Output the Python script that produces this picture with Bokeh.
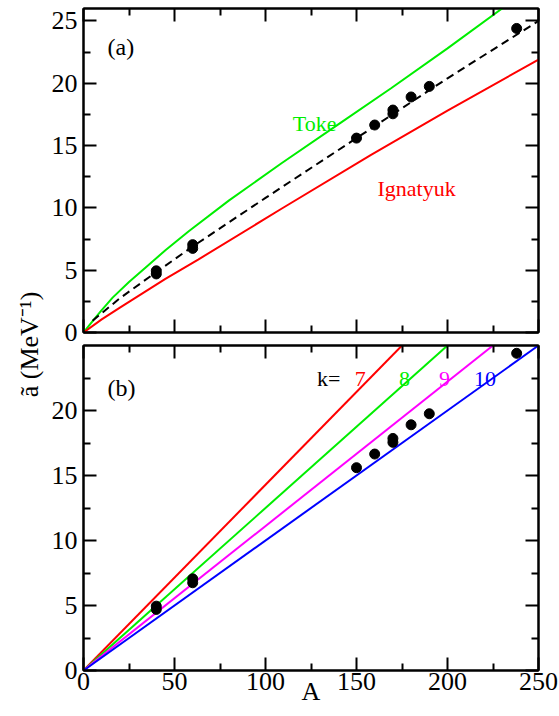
import math

from bokeh.core.properties import value
from bokeh.embed import file_html
from bokeh.layouts import column, row
from bokeh.models import FixedTicker, LinearAxis, Range1d
from bokeh.plotting import figure
from bokeh.resources import INLINE

FONT = "'Liberation Serif', 'Times New Roman', serif"

# measured level-density parameters (mass number, a-tilde in MeV^-1)
data_A = [40, 40, 60, 60, 150, 160, 170, 170, 180, 190, 238]
data_a = [4.7, 4.95, 6.75, 7.05, 15.6, 16.65, 17.55, 17.85, 18.9, 19.75, 24.4]

# panel (a): Toke, Ignatyuk and the fitted curve
toke_A = [0, 6, 10, 16, 25, 34, 45, 58, 80, 109, 140, 169, 200, 230]
toke_a = [0, 1.1, 1.8, 2.8, 4.05, 5.2, 6.6, 8.15, 10.6, 13.6, 16.7, 19.6, 22.8, 26.0]

ign_A = [0, 10, 20, 30, 45, 63, 109, 158, 200, 250]
ign_a = [0, 1.05, 2.0, 2.92, 4.3, 5.85, 9.95, 14.25, 17.8, 21.9]

fit_A = [5, 20, 40, 60, 100, 150, 200, 250]
fit_a = [0.95, 2.75, 4.85, 6.9, 10.8, 15.6, 20.4, 25.0]

# panel (b): straight lines a = A/k, from the origin to the top of the frame
k_values = ["7", "8", "9", "10"]
k_end_A = [175, 200, 225, 250]
k_end_a = [25, 25, 25, 25]
k_colors = ["#ff0000", "#00ee00", "#ff00ff", "#0000ff"]
k_label_A = [149.1, 173.4, 195.3, 214.5]

x_major = [0, 50, 100, 150, 200, 250]
x_minor = [25, 75, 125, 175, 225]
ya_major = [0, 5, 10, 15, 20, 25]
yb_major = [0, 5, 10, 15, 20]
y_minor = [2.5, 7.5, 12.5, 17.5, 22.5]

LEFT = 34  # left border of each panel, next to the 48 px title strip


def hide_labels(ax, ticks):
    ax.major_label_overrides = {t: "" for t in ticks}
    ax.major_label_text_font_size = "1px"
    ax.major_label_standoff = 0


def make_panel(height, border_top, border_bottom, y_max, y_major, x_labels):
    p = figure(width=511, height=height,
               x_range=Range1d(0, 250), y_range=Range1d(0, y_max),
               output_backend="svg", toolbar_location=None,
               min_border_left=LEFT, min_border_right=21,
               min_border_top=border_top, min_border_bottom=border_bottom)
    p.grid.visible = False
    p.outline_line_color = "black"
    p.outline_line_width = 2

    xt = FixedTicker(ticks=x_major, minor_ticks=x_minor)
    yt = FixedTicker(ticks=y_major, minor_ticks=y_minor)
    p.xaxis.ticker = xt
    p.yaxis.ticker = yt
    top_axis = LinearAxis(ticker=xt)
    right_axis = LinearAxis(ticker=yt)
    p.add_layout(top_axis, "above")
    p.add_layout(right_axis, "right")

    for ax in p.axis:
        ax.major_tick_in = 13
        ax.major_tick_out = 0
        ax.minor_tick_in = 7
        ax.minor_tick_out = 0
        ax.axis_line_width = 2
        ax.axis_line_color = "black"
        ax.major_tick_line_width = 2
        ax.minor_tick_line_width = 2
        ax.major_label_text_font = FONT
        ax.major_label_text_font_size = "26px"
        ax.major_label_text_color = "black"
        ax.major_label_standoff = 6

    hide_labels(top_axis, x_major)
    hide_labels(right_axis, y_major)
    bottom_axis = p.below[0]
    if x_labels:
        bottom_axis.major_label_standoff = 2
    else:
        hide_labels(bottom_axis, x_major)
    return p


def note(p, x, y, text, color, size="22px"):
    p.text(x=[x], y=[y], text=[text], text_color=color,
           text_font=value(FONT), text_font_size=value(size),
           text_align="left", text_baseline="alphabetic")


# ---- panel (a)
pa = make_panel(344, 8, 12, 26, ya_major, x_labels=False)
pa.line(toke_A, toke_a, line_color="#00ee00", line_width=2)
pa.line(ign_A, ign_a, line_color="#ff0000", line_width=2)
pa.line(fit_A, fit_a, line_color="black", line_width=2, line_dash="8 5")
pa.scatter(data_A, data_a, size=10, color="black")
note(pa, 13.2, 22.9, "(a)", "black", "24px")
note(pa, 115, 16.8, "Toke", "#00ee00")
note(pa, 161.5, 11.55, "Ignatyuk", "#ff0000")

# ---- panel (b)
pb = make_panel(372, 1, 46, 25, yb_major, x_labels=True)
for end_A, end_a, color in zip(k_end_A, k_end_a, k_colors):
    pb.line([0, end_A], [0, end_a], line_color=color, line_width=2)
pb.scatter(data_A, data_a, size=10, color="black")
note(pb, 13.2, 21.7, "(b)", "black", "24px")
note(pb, 128.3, 22.44, "k=", "black")
for lbl, lx, color in zip(k_values, k_label_A, k_colors):
    note(pb, lx, 22.44, lbl, color)
xax = pb.below[0]
xax.axis_label = "A"
xax.axis_label_text_font = FONT
xax.axis_label_text_font_size = "26px"
xax.axis_label_text_font_style = "normal"
xax.axis_label_text_color = "black"
xax.axis_label_standoff = -16

# ---- shared vertical axis title
lab = figure(width=48, height=716, x_range=Range1d(0, 48), y_range=Range1d(0, 716),
             x_axis_type=None, y_axis_type=None, output_backend="svg",
             toolbar_location=None, min_border=0)
lab.outline_line_color = None
lab.text(x=[29], y=[372], text=["ã (MeV⁻¹)"], angle=math.pi / 2,
         text_font=value(FONT), text_font_size=value("26px"),
         text_align="center", text_baseline="middle", text_color="black")

layout = row(lab, column(pa, pb))
open("out.html", "w").write(file_html(layout, INLINE))
